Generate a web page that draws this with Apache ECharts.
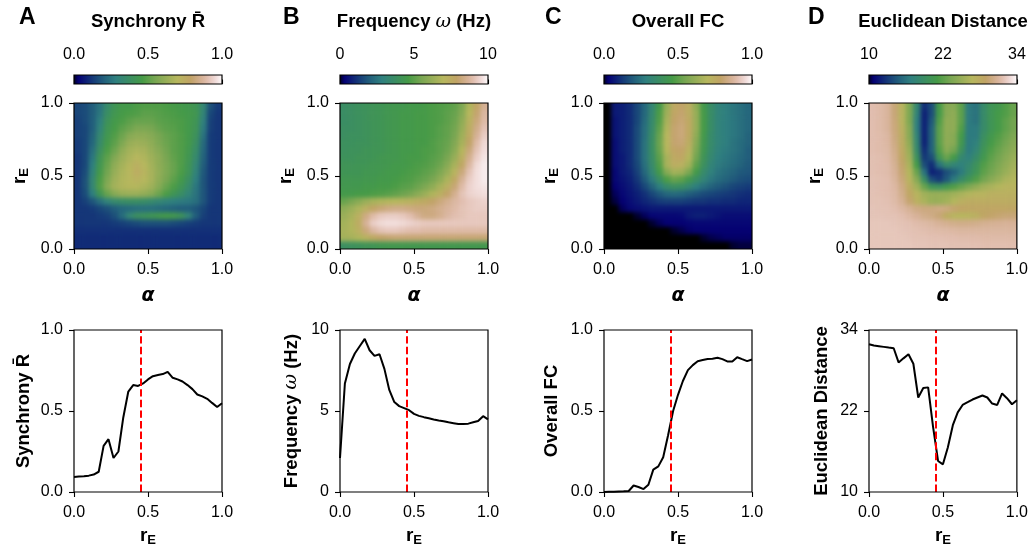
<!DOCTYPE html>
<html>
<head>
<meta charset="utf-8">
<script src="https://cdn.jsdelivr.net/npm/echarts@6/dist/echarts.min.js"></script>
<style>
  html, body { margin: 0; padding: 0; background: #fff; }
  #stage { position: relative; width: 1031px; height: 548px; overflow: hidden; }
  #main { position: absolute; left: 0; top: 0; width: 1031px; height: 548px; z-index: 2; }
  .heat { position: absolute; z-index: 1; filter: url(#smooth); }
</style>
</head>
<body>
<!-- bilinear-like smoothing of the sweep images; alpha is restored so the edges keep their own colour -->
<svg width="0" height="0" style="position:absolute">
  <filter id="smooth" x="0" y="0" width="1" height="1" color-interpolation-filters="sRGB">
    <feGaussianBlur stdDeviation="2.2"/>
    <feComponentTransfer><feFuncA type="table" tableValues="1 1"/></feComponentTransfer>
  </filter>
</svg>
<div id="stage"><div id="main"></div></div>
<script>
// ---------------------------------------------------------------------------
// Parameter sweep maps: rows run from r_E = 1 (top) down to r_E = 0 (bottom),
// columns run from alpha = 0 (left) to alpha = 1 (right), 20 x 20 cells.
// ---------------------------------------------------------------------------
const synchronyMap = [
  [0.15,0.16,0.20,0.25,0.35,0.42,0.45,0.45,0.47,0.48,0.48,0.48,0.47,0.46,0.45,0.44,0.42,0.32,0.17,0.13],
  [0.15,0.16,0.20,0.26,0.37,0.43,0.46,0.47,0.48,0.50,0.50,0.49,0.48,0.47,0.46,0.45,0.43,0.31,0.15,0.12],
  [0.14,0.16,0.20,0.28,0.40,0.45,0.47,0.50,0.52,0.52,0.52,0.50,0.49,0.48,0.47,0.45,0.42,0.29,0.14,0.12],
  [0.14,0.15,0.20,0.30,0.42,0.46,0.50,0.53,0.56,0.56,0.55,0.52,0.50,0.49,0.47,0.45,0.41,0.27,0.14,0.12],
  [0.14,0.15,0.21,0.33,0.43,0.48,0.53,0.58,0.60,0.60,0.58,0.55,0.52,0.50,0.48,0.45,0.40,0.25,0.13,0.12],
  [0.13,0.15,0.22,0.35,0.45,0.50,0.56,0.62,0.64,0.63,0.60,0.56,0.53,0.50,0.48,0.45,0.38,0.23,0.13,0.12],
  [0.13,0.15,0.24,0.38,0.47,0.53,0.60,0.65,0.67,0.66,0.62,0.58,0.54,0.50,0.48,0.44,0.36,0.22,0.13,0.12],
  [0.12,0.15,0.26,0.41,0.50,0.57,0.63,0.67,0.70,0.68,0.64,0.60,0.55,0.51,0.48,0.43,0.34,0.21,0.13,0.12],
  [0.12,0.15,0.28,0.43,0.52,0.60,0.65,0.69,0.73,0.70,0.65,0.60,0.56,0.52,0.48,0.42,0.32,0.20,0.13,0.12],
  [0.12,0.16,0.30,0.45,0.54,0.62,0.67,0.70,0.74,0.71,0.66,0.61,0.56,0.52,0.47,0.41,0.30,0.19,0.13,0.12],
  [0.12,0.17,0.32,0.47,0.56,0.64,0.68,0.70,0.72,0.70,0.66,0.60,0.55,0.50,0.45,0.38,0.28,0.18,0.13,0.12],
  [0.12,0.17,0.32,0.48,0.58,0.65,0.68,0.69,0.69,0.67,0.64,0.58,0.52,0.47,0.42,0.35,0.26,0.18,0.13,0.12],
  [0.12,0.16,0.28,0.42,0.52,0.58,0.62,0.63,0.63,0.61,0.58,0.53,0.47,0.42,0.37,0.31,0.25,0.18,0.13,0.12],
  [0.12,0.14,0.18,0.24,0.30,0.34,0.36,0.37,0.37,0.36,0.34,0.32,0.30,0.28,0.27,0.26,0.24,0.18,0.13,0.12],
  [0.12,0.12,0.13,0.15,0.17,0.20,0.22,0.23,0.24,0.24,0.24,0.23,0.22,0.21,0.20,0.20,0.18,0.15,0.12,0.12],
  [0.12,0.12,0.12,0.13,0.14,0.17,0.23,0.32,0.38,0.40,0.42,0.44,0.45,0.44,0.40,0.31,0.20,0.14,0.12,0.12],
  [0.12,0.12,0.12,0.12,0.12,0.13,0.14,0.15,0.16,0.17,0.17,0.17,0.17,0.16,0.15,0.14,0.13,0.12,0.12,0.12],
  [0.11,0.11,0.11,0.11,0.11,0.11,0.11,0.11,0.11,0.11,0.11,0.11,0.11,0.11,0.11,0.11,0.11,0.11,0.11,0.11],
  [0.10,0.10,0.10,0.10,0.10,0.10,0.10,0.10,0.10,0.10,0.10,0.10,0.10,0.10,0.10,0.10,0.10,0.10,0.10,0.10],
  [0.10,0.10,0.10,0.10,0.10,0.10,0.10,0.10,0.10,0.10,0.10,0.10,0.10,0.10,0.10,0.10,0.10,0.10,0.10,0.10]
];

const frequencyMap = [
  [3.7,3.8,3.9,4.0,4.1,4.2,4.3,4.4,4.4,4.5,4.5,4.6,4.7,4.8,4.9,5.1,5.6,6.8,7.8,8.6],
  [3.7,3.8,3.9,4.0,4.1,4.2,4.3,4.4,4.5,4.5,4.6,4.6,4.7,4.8,5.0,5.2,5.8,7.0,8.0,8.8],
  [3.7,3.8,3.9,4.0,4.1,4.2,4.3,4.4,4.5,4.5,4.6,4.6,4.7,4.8,5.0,5.3,6.0,7.2,8.2,8.9],
  [3.8,3.8,3.9,4.0,4.1,4.2,4.3,4.4,4.5,4.5,4.6,4.6,4.7,4.9,5.1,5.4,6.2,7.4,8.4,9.1],
  [3.8,3.9,3.9,4.0,4.1,4.2,4.3,4.4,4.5,4.5,4.6,4.6,4.7,4.9,5.1,5.5,6.4,7.6,8.6,9.3],
  [3.9,3.9,4.0,4.0,4.1,4.2,4.3,4.4,4.5,4.5,4.6,4.6,4.8,5.0,5.2,5.7,6.6,7.9,8.9,9.5],
  [3.9,4.0,4.0,4.1,4.2,4.2,4.3,4.4,4.5,4.5,4.6,4.7,4.8,5.0,5.3,5.9,6.9,8.2,9.1,9.6],
  [4.0,4.0,4.1,4.1,4.2,4.3,4.4,4.4,4.5,4.6,4.6,4.7,4.9,5.1,5.5,6.2,7.3,8.5,9.3,9.7],
  [4.1,4.1,4.2,4.2,4.3,4.3,4.4,4.5,4.5,4.6,4.7,4.8,5.0,5.3,5.8,6.6,7.7,8.8,9.5,9.8],
  [4.2,4.2,4.2,4.3,4.3,4.4,4.5,4.5,4.6,4.7,4.8,5.0,5.2,5.6,6.2,7.1,8.2,9.1,9.6,9.8],
  [4.3,4.3,4.3,4.4,4.4,4.5,4.5,4.6,4.7,4.8,5.0,5.2,5.5,6.0,6.7,7.6,8.6,9.3,9.6,9.8],
  [4.4,4.4,4.4,4.5,4.5,4.6,4.6,4.7,4.9,5.0,5.3,5.6,6.0,6.6,7.3,8.1,8.9,9.4,9.6,9.7],
  [4.5,4.5,4.6,4.6,4.7,4.8,4.9,5.1,5.3,5.5,5.9,6.3,6.8,7.3,7.9,8.5,9.1,9.4,9.5,9.6],
  [5.2,5.5,5.9,6.3,6.6,6.8,6.9,7.0,7.1,7.2,7.4,7.6,7.9,8.2,8.5,8.8,9.0,9.2,9.3,9.4],
  [6.0,6.3,6.7,7.3,7.8,8.1,8.3,8.4,8.4,8.3,8.2,8.2,8.3,8.5,8.7,8.9,9.1,9.2,9.3,9.3],
  [6.3,6.6,7.3,8.3,8.9,9.2,9.3,9.3,9.2,9.0,8.6,8.3,8.3,8.5,8.8,9.0,9.1,9.2,9.2,9.2],
  [6.5,6.8,7.5,8.6,9.3,9.5,9.6,9.6,9.5,9.4,9.3,9.2,9.2,9.2,9.2,9.2,9.2,9.2,9.2,9.2],
  [6.6,6.8,7.3,8.2,8.8,9.1,9.2,9.2,9.1,9.0,9.0,8.9,8.9,8.9,8.9,8.9,8.9,8.9,8.9,8.9],
  [6.5,6.6,6.8,7.2,7.6,7.9,8.0,8.1,8.1,8.1,8.1,8.1,8.1,8.1,8.1,8.1,8.1,8.1,8.1,8.1],
  [3.8,3.9,4.0,4.1,4.2,4.3,4.4,4.4,4.4,4.4,4.4,4.4,4.4,4.4,4.4,4.4,4.4,4.4,4.4,4.4]
];

const fcMap = [
  [0,0.07,0.08,0.10,0.15,0.22,0.32,0.45,0.62,0.76,0.79,0.74,0.60,0.45,0.36,0.30,0.28,0.26,0.24,0.22],
  [0,0.07,0.08,0.10,0.15,0.22,0.33,0.47,0.64,0.78,0.80,0.75,0.62,0.46,0.36,0.30,0.28,0.26,0.24,0.22],
  [0,0.06,0.08,0.10,0.15,0.23,0.34,0.48,0.66,0.79,0.81,0.76,0.62,0.46,0.36,0.30,0.28,0.26,0.24,0.22],
  [0,0.06,0.08,0.10,0.16,0.24,0.35,0.50,0.68,0.80,0.82,0.76,0.62,0.46,0.36,0.30,0.28,0.26,0.24,0.22],
  [0,0.06,0.08,0.10,0.16,0.24,0.36,0.52,0.70,0.80,0.82,0.76,0.60,0.45,0.35,0.30,0.28,0.26,0.24,0.21],
  [0,0.05,0.08,0.10,0.16,0.25,0.37,0.53,0.70,0.80,0.81,0.74,0.58,0.44,0.35,0.30,0.28,0.25,0.23,0.21],
  [0,0.05,0.08,0.10,0.16,0.25,0.37,0.52,0.69,0.78,0.79,0.72,0.56,0.43,0.34,0.29,0.27,0.25,0.23,0.20],
  [0,0.05,0.07,0.10,0.16,0.25,0.36,0.50,0.66,0.76,0.77,0.69,0.54,0.41,0.33,0.28,0.26,0.24,0.22,0.20],
  [0,0.05,0.07,0.10,0.15,0.24,0.35,0.48,0.66,0.74,0.73,0.65,0.50,0.39,0.31,0.27,0.25,0.23,0.21,0.19],
  [0,0.04,0.07,0.09,0.14,0.22,0.32,0.45,0.58,0.65,0.64,0.56,0.45,0.35,0.29,0.25,0.23,0.21,0.19,0.18],
  [0,0.04,0.06,0.08,0.12,0.19,0.27,0.37,0.47,0.52,0.50,0.44,0.37,0.31,0.26,0.23,0.21,0.19,0.17,0.16],
  [0,0.03,0.05,0.07,0.10,0.15,0.21,0.28,0.35,0.38,0.37,0.33,0.28,0.24,0.21,0.19,0.17,0.15,0.14,0.13],
  [0,0.02,0.04,0.06,0.08,0.11,0.15,0.19,0.22,0.23,0.22,0.20,0.18,0.16,0.15,0.14,0.13,0.12,0.11,0.10],
  [0,0.01,0.03,0.05,0.07,0.09,0.11,0.13,0.14,0.14,0.14,0.13,0.12,0.12,0.11,0.11,0.10,0.10,0.09,0.09],
  [0,0,0.02,0.04,0.05,0.06,0.07,0.07,0.07,0.07,0.07,0.07,0.07,0.07,0.07,0.07,0.07,0.07,0.07,0.07],
  [0,0,0,0,0.005,0.02,0.035,0.04,0.04,0.04,0.045,0.07,0.08,0.08,0.07,0.06,0.05,0.05,0.05,0.05],
  [0,0,0,0,0,0,0.005,0.02,0.03,0.03,0.03,0.035,0.04,0.04,0.04,0.04,0.04,0.04,0.04,0.04],
  [0,0,0,0,0,0,0,0,0,0.005,0.015,0.025,0.03,0.03,0.03,0.03,0.03,0.03,0.03,0.03],
  [0,0,0,0,0,0,0,0,0,0,0,0,0,0.005,0.015,0.02,0.025,0.025,0.025,0.025],
  [0,0,0,0,0,0,0,0,0,0,0,0,0,0,0,0,0,0.005,0.01,0.01]
];

const distanceMap = [
  [31.6,31.4,31.0,29.5,27.0,23.5,18.0,12.5,14.0,21.0,24.0,24.0,22.0,16.5,16.0,18.5,20.0,20.5,21.5,22.5],
  [31.6,31.4,31.0,29.5,27.0,23.5,17.5,12.0,14.0,21.0,24.0,24.5,22.0,16.5,16.0,18.5,20.0,21.0,21.5,22.5],
  [31.6,31.4,31.0,29.6,27.0,23.5,17.0,12.0,14.5,21.5,24.5,24.5,22.0,16.5,16.0,18.5,20.0,21.0,22.0,23.0],
  [31.6,31.4,31.0,29.7,27.5,24.0,17.0,12.0,15.0,22.0,24.5,24.5,21.5,16.5,16.5,18.5,20.0,21.0,22.0,23.0],
  [31.6,31.5,31.2,29.8,27.8,24.0,17.5,12.0,15.0,22.0,24.5,24.0,21.0,16.5,16.5,19.0,20.5,21.5,22.5,23.5],
  [31.6,31.5,31.2,30.0,28.0,24.5,18.0,12.0,15.0,22.0,24.5,24.0,20.5,16.5,17.0,19.5,21.0,22.0,23.0,24.0],
  [31.6,31.5,31.3,30.2,28.3,25.0,18.5,12.5,15.0,21.5,24.0,23.0,19.5,16.5,17.5,20.0,21.5,22.5,23.5,24.5],
  [31.7,31.6,31.4,30.4,28.6,25.5,19.5,13.0,14.0,20.0,22.5,21.0,18.0,17.0,18.5,20.5,22.0,23.0,24.0,25.0],
  [31.7,31.6,31.5,30.6,29.0,26.0,21.0,14.0,12.5,16.0,18.5,17.5,17.0,18.0,19.5,21.5,22.5,23.5,24.5,25.5],
  [31.7,31.6,31.5,30.8,29.3,26.5,22.5,16.0,12.0,12.5,14.0,15.0,16.5,18.5,20.0,22.0,23.0,24.0,25.0,26.0],
  [31.8,31.7,31.6,31.0,29.6,27.0,24.0,19.0,14.0,13.0,14.5,16.5,18.5,20.0,21.5,23.0,24.0,25.0,26.0,26.5],
  [31.8,31.7,31.6,31.2,30.0,28.0,25.5,22.5,20.0,19.5,20.5,21.5,22.5,23.5,24.5,25.5,26.0,26.5,27.0,27.0],
  [31.8,31.7,31.6,31.3,30.3,28.5,27.0,25.5,25.0,25.0,25.0,25.5,26.0,26.5,27.0,27.0,27.5,27.5,27.5,27.5],
  [31.8,31.8,31.7,31.4,30.6,29.2,27.5,26.0,25.0,25.0,25.5,26.5,27.5,28.0,28.0,28.0,28.0,28.0,28.0,28.0],
  [31.9,31.8,31.8,31.6,31.2,30.6,30.0,29.8,29.8,30.0,29.8,29.2,28.8,28.6,28.5,28.5,28.5,28.5,28.5,28.5],
  [31.9,31.9,31.8,31.8,31.6,31.2,30.8,30.3,30.0,29.5,28.0,27.0,26.8,27.0,27.5,28.5,29.0,29.3,29.5,29.5],
  [32.0,32.0,32.0,31.9,31.8,31.7,31.5,31.3,31.1,30.8,30.5,30.3,30.2,30.2,30.3,30.5,30.6,30.7,30.8,30.8],
  [32.0,32.0,32.0,32.0,31.9,31.8,31.7,31.6,31.5,31.4,31.3,31.2,31.1,31.1,31.1,31.1,31.1,31.1,31.1,31.1],
  [32.0,32.0,32.0,32.0,32.0,31.9,31.8,31.8,31.7,31.7,31.6,31.6,31.5,31.5,31.5,31.4,31.4,31.4,31.4,31.4],
  [32.0,32.0,32.0,32.0,32.0,32.0,31.9,31.9,31.8,31.8,31.8,31.7,31.7,31.7,31.7,31.6,31.6,31.6,31.6,31.6]
];

// ---------------------------------------------------------------------------
// Slices along r_E
// ---------------------------------------------------------------------------
const rE = [0, 0.033, 0.067, 0.1, 0.133, 0.167, 0.2, 0.233, 0.267, 0.3, 0.333, 0.367, 0.4, 0.433, 0.467,
            0.5, 0.533, 0.567, 0.6, 0.633, 0.667, 0.7, 0.733, 0.767, 0.8, 0.833, 0.867, 0.9, 0.933, 0.967, 1];
const synchronySlice = [0.093, 0.095, 0.097, 0.101, 0.108, 0.125, 0.285, 0.326, 0.21, 0.25, 0.46, 0.62, 0.66, 0.655, 0.67,
                        0.695, 0.715, 0.722, 0.728, 0.742, 0.705, 0.695, 0.682, 0.66, 0.635, 0.602, 0.59, 0.575, 0.55, 0.525, 0.548];
const frequencySlice = [2.1, 6.7, 7.9, 8.55, 9.0, 9.45, 8.75, 8.4, 8.5, 7.6, 6.3, 5.55, 5.3, 5.18, 5.05,
                        4.82, 4.7, 4.62, 4.55, 4.48, 4.42, 4.37, 4.3, 4.25, 4.2, 4.2, 4.22, 4.3, 4.38, 4.68, 4.48];
const fcSlice = [0.0, 0.001, 0.002, 0.003, 0.004, 0.006, 0.04, 0.031, 0.018, 0.045, 0.138, 0.158, 0.215, 0.35, 0.5,
                 0.6, 0.685, 0.752, 0.783, 0.807, 0.815, 0.821, 0.823, 0.829, 0.82, 0.806, 0.805, 0.832, 0.82, 0.808, 0.818];
const distanceSlice = [31.9, 31.7, 31.6, 31.5, 31.4, 31.3, 29.2, 29.8, 30.4, 29.0, 24.0, 25.4, 25.5, 19.7, 14.6,
                       14.1, 16.6, 19.9, 21.8, 22.9, 23.3, 23.7, 24.0, 24.3, 24.0, 23.1, 22.9, 24.6, 23.9, 23.0, 23.6];
const rECritical = 0.45;

// ---------------------------------------------------------------------------
// Labels, ranges and ticks
// ---------------------------------------------------------------------------
const panelLetters = ['A', 'B', 'C', 'D'];
const valueRanges = [[0, 1], [0, 10], [0, 1], [10, 34]];
const valueTicks = [[0, 0.5, 1], [0, 5, 10], [0, 0.5, 1], [10, 22, 34]];
const valueDecimals = [1, 0, 1, 0];
const unitTicks = [0, 0.5, 1];

const maps = [synchronyMap, frequencyMap, fcMap, distanceMap];
const slices = [synchronySlice, frequencySlice, fcSlice, distanceSlice];

// ---------------------------------------------------------------------------
// gist_earth colormap (segment data)
// ---------------------------------------------------------------------------
const GIST_EARTH = {
  r: [[0,0],[0.2824,0.1882],[0.4588,0.2714],[0.549,0.4719],[0.698,0.7176],[0.7882,0.7553],[1,0.9922]],
  g: [[0,0],[0.0275,0],[0.1098,0.1893],[0.1647,0.3035],[0.2078,0.3841],[0.2824,0.502],[0.5216,0.6397],
      [0.698,0.7171],[0.7882,0.6392],[0.7922,0.6413],[0.8,0.6447],[0.8078,0.6481],[0.8157,0.6549],
      [0.8667,0.6991],[0.8745,0.7103],[0.8824,0.7216],[0.8902,0.7323],[0.898,0.743],[0.9412,0.8275],
      [0.9569,0.8635],[0.9647,0.8816],[0.9961,0.9733],[1,0.9843]],
  b: [[0,0],[0.0039,0.1684],[0.0078,0.2212],[0.0275,0.4329],[0.0314,0.4549],[0.2824,0.5004],
      [0.4667,0.2748],[0.5451,0.3205],[0.7843,0.3961],[0.8941,0.6651],[1,0.9843]]
};
function segment(seg, t) {
  for (let i = 1; i < seg.length; i++) {
    if (t <= seg[i][0]) {
      const [x0, y0] = seg[i - 1], [x1, y1] = seg[i];
      return y0 + (y1 - y0) * (t - x0) / (x1 - x0);
    }
  }
  return seg[seg.length - 1][1];
}
function gistEarth(t) {
  const c = ['r', 'g', 'b'].map(k => Math.round(255 * segment(GIST_EARTH[k], t)));
  return 'rgb(' + c.join(',') + ')';
}
const CMAP = Array.from({ length: 256 }, (_, i) => gistEarth(i / 255));
const CMAP_STOPS = CMAP.map((c, i) => ({ offset: i / (CMAP.length - 1), color: c }));

// ---------------------------------------------------------------------------
// Layout
// ---------------------------------------------------------------------------
const FONT = "'Liberation Sans', Arial, sans-serif";
const colLeft = [74, 340, 604, 869];
const plotW = 148;
const heatTop = 103, heatH = 146;
const barTop = 75, barH = 9;
const lineTop = 330, lineH = 162;
const letterX = [19, 283, 545, 808];
const lineNameX = [23.5, 291.5, 551.5, 821.5];

const cells = Array.from({ length: 20 }, (_, i) => i);

// ---------------------------------------------------------------------------
// Sweep images: one small chart per panel, sitting under the axes frame
// ---------------------------------------------------------------------------
const stage = document.getElementById('stage');
maps.forEach((m, i) => {
  const el = document.createElement('div');
  el.className = 'heat';
  el.style.left = colLeft[i] + 'px';
  el.style.top = heatTop + 'px';
  el.style.width = plotW + 'px';
  el.style.height = heatH + 'px';
  stage.appendChild(el);
  const n = m.length;
  echarts.init(el).setOption({
    animation: false,
    grid: { left: 0, right: 0, top: 0, bottom: 0 },
    xAxis: { type: 'category', data: cells, show: false },
    yAxis: { type: 'category', data: cells, show: false },
    visualMap: {
      type: 'continuous', show: false, dimension: 2,
      min: valueRanges[i][0], max: valueRanges[i][1],
      inRange: { color: CMAP }
    },
    series: [{
      type: 'heatmap',
      data: m.flatMap((row, r) => row.map((v, c) => [c, n - 1 - r, v])),
      emphasis: { disabled: true },
      progressive: 0
    }]
  });
});

// ---------------------------------------------------------------------------
// Axes, colorbars and slice plots
// ---------------------------------------------------------------------------
const frame = { show: true, borderColor: '#000', borderWidth: 1.2, backgroundColor: 'transparent', z: 10 };

function valueAxis(gridIndex, range, ticks, dec, margin, extra) {
  return Object.assign({
    type: 'value', gridIndex, min: range[0], max: range[1],
    axisLine: { show: false },
    splitLine: { show: false },
    axisTick: { show: true, length: 5, lineStyle: { color: '#000', width: 1.1 }, customValues: ticks },
    axisLabel: { color: '#000', fontSize: 16, fontFamily: FONT, margin,
                 formatter: v => v.toFixed(dec), customValues: ticks }
  }, extra || {});
}

const grid = [], xAxis = [], yAxis = [], series = [];

// frames around the sweep images, with alpha / r_E axes
for (let i = 0; i < 4; i++) {
  grid.push(Object.assign({ left: colLeft[i], top: heatTop, width: plotW, height: heatH }, frame));
  xAxis.push(valueAxis(i, [0, 1], unitTicks, 1, 13));
  yAxis.push(valueAxis(i, [0, 1], unitTicks, 1, 11));
}
// colorbars
for (let i = 0; i < 4; i++) {
  grid.push(Object.assign({ left: colLeft[i], top: barTop, width: plotW, height: barH }, frame));
  xAxis.push(valueAxis(4 + i, valueRanges[i], valueTicks[i], valueDecimals[i], 12, {
    position: 'top',
    axisTick: { show: true, length: 4.5, lineStyle: { color: '#000', width: 1.1 }, customValues: valueTicks[i] }
  }));
  yAxis.push({ type: 'value', gridIndex: 4 + i, min: 0, max: 1, show: false });
}
// slice line charts
for (let i = 0; i < 4; i++) {
  grid.push(Object.assign({ left: colLeft[i], top: lineTop, width: plotW, height: lineH }, frame));
  xAxis.push(valueAxis(8 + i, [0, 1], unitTicks, 1, 13));
  yAxis.push(valueAxis(8 + i, valueRanges[i], valueTicks[i], valueDecimals[i], 11));
}

// colorbar gradients
for (let i = 0; i < 4; i++) {
  series.push({
    type: 'custom', xAxisIndex: 4 + i, yAxisIndex: 4 + i,
    data: [[valueRanges[i][0], valueRanges[i][1]]],
    renderItem: (params, api) => {
      const p0 = api.coord([api.value(0), 0]);
      const p1 = api.coord([api.value(1), 1]);
      return {
        type: 'rect',
        shape: { x: p0[0], y: p1[1], width: p1[0] - p0[0], height: p0[1] - p1[1] },
        style: { fill: new echarts.graphic.LinearGradient(0, 0, 1, 0, CMAP_STOPS) }
      };
    },
    silent: true
  });
}

// slice lines with the critical r_E marker
slices.forEach((s, i) => {
  series.push({
    type: 'line', xAxisIndex: 8 + i, yAxisIndex: 8 + i,
    data: rE.map((x, k) => [x, s[k]]),
    symbol: 'none', lineStyle: { color: '#000', width: 2 },
    markLine: {
      silent: true, symbol: 'none', label: { show: false },
      lineStyle: { color: '#ff0000', width: 2, type: [7.4, 3.2] },
      data: [{ xAxis: rECritical }]
    },
    z: 3
  });
});

// ---------------------------------------------------------------------------
// Text: panel letters, titles, axis names
// ---------------------------------------------------------------------------
const rich = {
  t: { fontSize: 18.5, fontWeight: 'bold', fontFamily: FONT, fill: '#000' },
  w: { fontSize: 19, fontStyle: 'italic', fontFamily: "'DejaVu Serif', serif", fill: '#000' },
  r: { fontSize: 19, fontWeight: 'bold', fontFamily: FONT, fill: '#000', lineHeight: 22 },
  e: { fontSize: 13, fontWeight: 'bold', fontFamily: FONT, fill: '#000', lineHeight: 12, verticalAlign: 'bottom' }
};
const titles = ['{t|Synchrony R\u0304}', '{t|Frequency }{w|\u03c9}{t| (Hz)}', '{t|Overall FC}', '{t|Euclidean Distance}'];
const rELabel = '{r|r}{e|E}';

const texts = [];
for (let i = 0; i < 4; i++) {
  const cx = colLeft[i] + plotW / 2;
  texts.push({ type: 'text', x: letterX[i], y: 18,
    style: { text: panelLetters[i], fontSize: 23, fontWeight: 'bold', fontFamily: FONT, fill: '#000', align: 'left', verticalAlign: 'middle' } });
  texts.push({ type: 'text', x: cx, y: 22,
    style: { text: titles[i], rich, align: 'center', verticalAlign: 'middle' } });
  texts.push({ type: 'text', x: colLeft[i] - 54, y: heatTop + heatH / 2, rotation: Math.PI / 2,
    style: { text: rELabel, rich, align: 'center', verticalAlign: 'middle' } });
  texts.push({ type: 'text', x: cx, y: 296,
    style: { text: '\u03b1', fontSize: 19, fontWeight: 'bold', fontStyle: 'italic', fontFamily: "'DejaVu Sans', sans-serif", fill: '#000', align: 'center', verticalAlign: 'middle' } });
  texts.push({ type: 'text', x: lineNameX[i], y: lineTop + lineH / 2, rotation: Math.PI / 2,
    style: { text: titles[i], rich, align: 'center', verticalAlign: 'middle' } });
  texts.push({ type: 'text', x: cx, y: 536,
    style: { text: rELabel, rich, align: 'center', verticalAlign: 'middle' } });
}

const chart = echarts.init(document.getElementById('main'), null, { renderer: 'canvas' });
chart.setOption({
  backgroundColor: 'transparent',
  animation: false,
  grid, xAxis, yAxis, series,
  graphic: { elements: texts }
});
</script>
</body>
</html>
